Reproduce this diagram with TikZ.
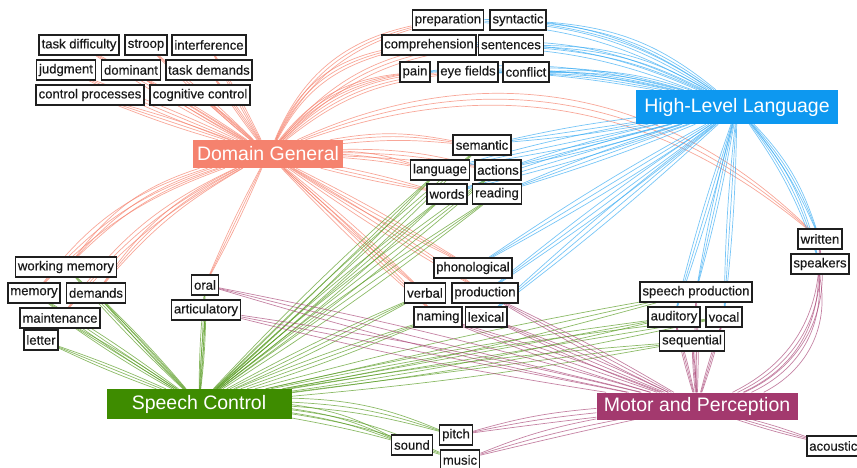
\documentclass[tikz,border=0pt]{standalone}
\usepackage{fontspec}
\setmainfont{Liberation Sans}
\newfontfamily\termfont[FakeBold=0.4]{Liberation Sans}
\usetikzlibrary{backgrounds}

\definecolor{dgc}{HTML}{F5826E}
\definecolor{hlc}{HTML}{0D98F0}
\definecolor{scc}{HTML}{3E8C00}
\definecolor{mpc}{HTML}{A3396E}

% a bundle of three slightly fanned curves between two nodes
\newcommand\bundle[4]{%
  \foreach \o in {-2.5,0,2.5}{%
    \pgfmathsetmacro\bb{#2+\o}%
    \draw[#1] (#3) to[bend left=\bb] (#4);}}

\begin{document}
\begin{tikzpicture}[x=1pt,y=1pt,
  word/.style={draw=black!88, line width=1.6pt, fill=white, text=black!90,
    font=\termfont\fontsize{13.1}{14}\selectfont, inner xsep=2.5pt, inner ysep=2pt,
    minimum height=20pt},
  hub/.style={text=white, font=\fontsize{19.5}{22}\selectfont, inner sep=0pt},
  dgl/.style={dgc, line width=0.7pt, opacity=0.7},
  hll/.style={hlc!80, line width=0.7pt, opacity=0.7},
  scl/.style={scc!85, line width=0.7pt, opacity=0.7},
  mpl/.style={mpc!90, line width=0.7pt, opacity=0.7}]
\useasboundingbox (0,0) rectangle (857,-468);
\clip (0,0) rectangle (857,-468);

% topic hubs
\node[hub, fill=dgc, minimum width=150pt, minimum height=28pt] (dg) at (268,-154) {Domain General};
\node[hub, fill=hlc, minimum width=202pt, minimum height=34pt] (hl) at (737,-107) {High-Level Language};
\node[hub, fill=scc, minimum width=185pt, minimum height=30pt] (sc) at (199,-404) {Speech Control};
\node[hub, fill=mpc, minimum width=201pt, minimum height=27pt] (mp) at (697,-406) {Motor and Perception};

% terms: control
\node[word] (taskdiff) at (79,-45) {task difficulty};
\node[word] (stroop) at (146,-45) {stroop};
\node[word] (interf) at (209,-45) {interference};
\node[word] (judg) at (66,-70) {judgment};
\node[word] (domin) at (131,-70) {dominant};
\node[word] (taskdem) at (209,-70) {task demands};
\node[word] (ctrlproc) at (90,-95) {control processes};
\node[word] (cogctrl) at (200,-95) {cognitive control};

% terms: language
\node[word] (prep) at (448,-20) {preparation};
\node[word] (synt) at (518,-20) {syntactic};
\node[word] (compr) at (429,-45) {comprehension};
\node[word] (sent) at (511,-45) {sentences};
\node[word] (pain) at (415,-72) {pain};
\node[word] (eyef) at (468,-72) {eye fields};
\node[word] (confl) at (526,-72) {conflict};
\node[word] (sem) at (482,-145) {semantic};
\node[word] (lang) at (440,-170) {language};
\node[word] (act) at (498,-170) {actions};
\node[word] (words) at (447,-194) {words};
\node[word] (read) at (497,-194) {reading};

% terms: memory
\node[word] (wm) at (66,-267) {working memory};
\node[word] (mem) at (34,-293) {memory};
\node[word] (dem) at (96,-293) {demands};
\node[word] (maint) at (60,-318) {maintenance};
\node[word] (letter) at (41,-340) {letter};
\node[word] (oral) at (205,-285) {oral};
\node[word] (artic) at (206,-310) {articulatory};

% terms: phonology
\node[word] (phon) at (473,-268) {phonological};
\node[word] (verbal) at (425,-293) {verbal};
\node[word] (prod) at (485,-293) {production};
\node[word] (naming) at (438,-317) {naming};
\node[word] (lexical) at (486,-317) {lexical};

% terms: speech and hearing
\node[word] (sprod) at (696,-292) {speech production};
\node[word] (aud) at (674,-317) {auditory};
\node[word] (vocal) at (724,-317) {vocal};
\node[word] (seq) at (692,-341) {sequential};
\node[word] (written) at (820,-239) {written};
\node[word] (speakers) at (820,-264) {speakers};
\node[word] (sound) at (412,-445) {sound};
\node[word] (pitch) at (456,-435) {pitch};
\node[word] (music) at (460,-460) {music};
\node[word, anchor=west] (acoustic) at (806,-446) {acoustic};

\begin{pgfonlayer}{background}
  % Domain General links
  \foreach \t/\b in {taskdiff/0, stroop/0, interf/0, judg/0, domin/0, taskdem/0,
      ctrlproc/0, cogctrl/0, prep/25, compr/25, sent/22, pain/20, eyef/18,
      written/32, sem/8, lang/5, act/5, words/0, phon/0, verbal/0, prod/0,
      naming/0, wm/-15, mem/-15, dem/-12, maint/-12, oral/0}
    {\bundle{dgl}{\b}{dg}{\t}}
  % High-Level Language links
  \foreach \t/\b in {prep/-15, synt/-15, compr/-12, sent/-12, pain/-8, eyef/-8,
      confl/-8, sem/0, lang/0, act/0, words/0, read/0, phon/0, prod/0,
      lexical/0, sprod/0, aud/0, vocal/0, written/10, speakers/10}
    {\bundle{hll}{\b}{hl}{\t}}
  % Speech Control links
  \foreach \t/\b in {wm/0, mem/0, dem/0, maint/0, letter/0, oral/0, artic/0,
      sem/0, lang/0, words/0, read/0, act/0, verbal/0, naming/0, sprod/0,
      aud/0, seq/0, vocal/0, sound/8, pitch/8, music/6}
    {\bundle{scl}{\b}{sc}{\t}}
  % Motor and Perception links
  \foreach \t/\b in {oral/0, artic/0, prod/0, lexical/0, naming/0, sprod/0,
      aud/0, vocal/0, seq/0, speakers/-35, written/-35, acoustic/0,
      pitch/-3, music/-3}
    {\bundle{mpl}{\b}{mp}{\t}}
\end{pgfonlayer}
\end{tikzpicture}
\end{document}
